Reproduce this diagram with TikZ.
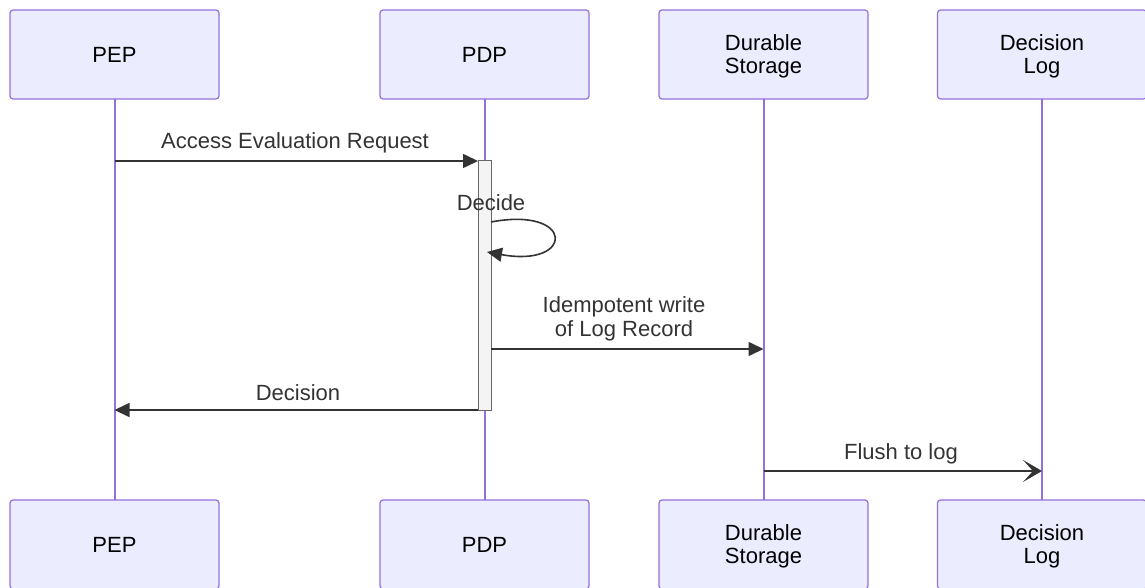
\documentclass[tikz,border=0pt]{standalone}
\usepackage{fontspec}
\setmainfont{Liberation Sans}
\usetikzlibrary{arrows.meta}
\definecolor{actfill}{HTML}{ECECFF}
\definecolor{actline}{HTML}{9370DB}
\definecolor{msgline}{HTML}{333333}
\definecolor{barfill}{HTML}{F4F4F4}
\definecolor{barline}{HTML}{666666}
\tikzset{
  actor/.style={draw=actline, line width=1.2pt, fill=actfill, rounded corners=3pt,
    minimum width=209pt, minimum height=89pt, inner sep=0pt, align=center,
    font=\fontsize{22}{23}\selectfont, text=black},
  actortext/.style={inner sep=0pt, align=center, font=\fontsize{22}{23}\selectfont, text=black},
  lifeline/.style={draw=actline, line width=2pt},
  msg/.style={draw=msgline, line width=1.6pt, -{Triangle[length=15pt,width=14pt]}},
  asyncmsg/.style={draw=msgline, line width=1.6pt, -{Stealth[length=19pt,width=22pt,inset=10pt]}},
  msglabel/.style={font=\fontsize{22}{24}\selectfont, text=msgline, align=center, inner sep=0pt},
  actbar/.style={draw=barline, line width=1pt, fill=barfill}
}
\begin{document}
\begin{tikzpicture}[x=1pt,y=-1pt]
\useasboundingbox (0,0) rectangle (1145,588);

% lifelines
\foreach \xx/\nm in {114.5/pep,484.5/pdp,763.5/ds,1042/dl}{
  \coordinate (\nm-top) at (\xx,99);
  \coordinate (\nm-bot) at (\xx,500);
  \draw[lifeline] (\nm-top) -- (\nm-bot);
}

% actors, top and bottom; two-line names sit a little low in their boxes
\foreach \yy/\sfx in {54.5/T,544.5/B}{
  \node[actor] (pep\sfx) at (114.5,\yy) {PEP};
  \node[actor] (pdp\sfx) at (484.5,\yy) {PDP};
  \node[actor] (ds\sfx)  at (763.5,\yy) {};
  \node[actor] (dl\sfx)  at (1042,\yy) {};
  \node[actortext] (ds\sfx-name) at ([yshift=-2pt]ds\sfx.center) {Durable\\Storage};
  \node[actortext] (dl\sfx-name) at ([yshift=-2pt]dl\sfx.center) {Decision\\Log};
}

% activation of PDP
\draw[actbar] (478,161) rectangle (491,410);

% message end points
\coordinate (m1s) at (114.5,161);
\coordinate (m1e) at (478,161);
\coordinate (m2s) at (491,222);
\coordinate (m2e) at (487,252);
\coordinate (m3s) at (491,349);
\coordinate (m3e) at (763.5,349);
\coordinate (m4s) at (478,410);
\coordinate (m4e) at (114.5,410);
\coordinate (m5s) at (763.5,471);
\coordinate (m5e) at (1042,471);

% messages
\draw[msg] (m1s) -- (m1e);
\node[msglabel] (l1) at (295,143) {Access Evaluation Request};

\draw[msg] (m2s) .. controls (575,206) and (575,268) .. (m2e);
\node[msglabel] (l2) at (491,203) {Decide};

\draw[msg] (m3s) -- (m3e);
\node[msglabel] (l3) at (624,319) {Idempotent write\\of Log Record};

\draw[msg] (m4s) -- (m4e);
\node[msglabel] (l4) at (298,393) {Decision};

\draw[asyncmsg] (m5s) -- (m5e);
\node[msglabel] (l5) at (901,454) {Flush to log};
\end{tikzpicture}
\end{document}
